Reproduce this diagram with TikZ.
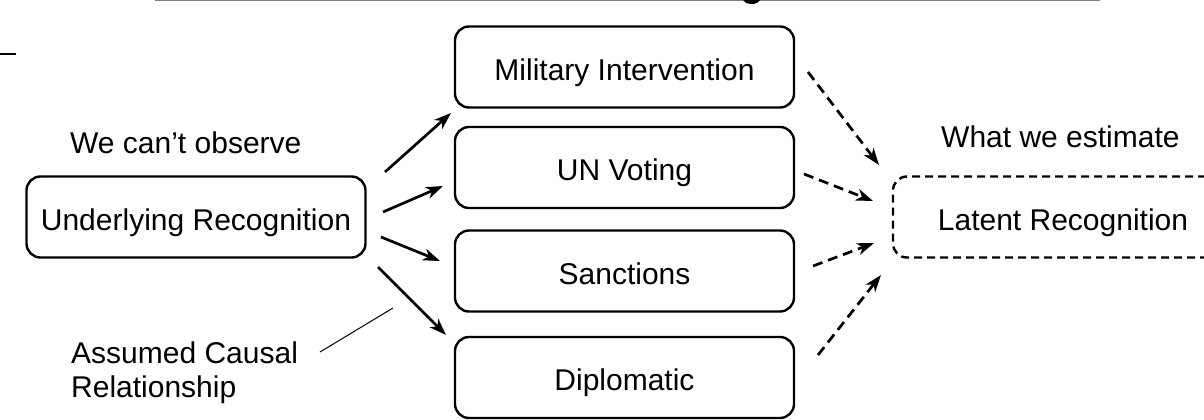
\documentclass[tikz,border=0pt]{standalone}
\usepackage{fontspec}
\setmainfont{Liberation Sans}
\usetikzlibrary{arrows.meta}
\tikzset{
  box/.style={draw, line width=2.4pt, rounded corners=14pt, minimum width=339pt, minimum height=81pt, inner sep=0pt, text height=26pt, text depth=0pt, font=\fontsize{30}{36}\selectfont},
  dbox/.style={box, dash pattern=on 8pt off 5pt},
  lbl/.style={anchor=base west, inner sep=0pt, font=\fontsize{30}{34}\selectfont, align=left},
  solidarr/.style={line width=2.7pt, -{Stealth[length=17pt,width=12pt,inset=5pt]}},
  dasharr/.style={solidarr, dash pattern=on 10pt off 6pt},
}
\begin{document}
\begin{tikzpicture}[x=1pt,y=-1pt]
\useasboundingbox (0,0) rectangle (1204,420);
\clip (0,0) rectangle (1204,420);
% fragments at the top
\draw[line width=2pt, black!50] (155,0.5) -- (1100,0.5);
\fill (743,0) -- (760,0) .. controls (758,4) and (752,5) .. (746,3) -- cycle;
\draw[line width=2.2pt] (0,54) -- (16,54);
% nodes
\node[box] (ur) at (196,217) {Underlying Recognition};
\node[box] (mil) at (624.5,67) {Military Intervention};
\node[box] (un) at (624.5,167.5) {UN Voting};
\node[box] (sanc) at (624.5,271) {Sanctions};
\node[box] (dip) at (624.5,377.5) {Diplomatic};
\node[dbox, minimum width=340pt] (lat) at (1063,217) {Latent Recognition};
\node[lbl] (obs) at (70,153) {We can’t observe};
\node[lbl] (est) at (941,147) {What we estimate};
\node[lbl] (acr) at (71,397) {Assumed Causal\\Relationship};
% arrow end points
\coordinate (s1a) at (385,172); \coordinate (s1b) at (451,113);
\coordinate (s2a) at (383,212); \coordinate (s2b) at (443,186);
\coordinate (s3a) at (381,237); \coordinate (s3b) at (440,261);
\coordinate (s4a) at (378,267); \coordinate (s4b) at (446,335);
\coordinate (d1a) at (808,72);  \coordinate (d1b) at (879,165);
\coordinate (d2a) at (804,174); \coordinate (d2b) at (873,201);
\coordinate (d3a) at (813,266); \coordinate (d3b) at (874,243);
\coordinate (d4a) at (818,355); \coordinate (d4b) at (881,275);
\coordinate (cla) at (320,352); \coordinate (clb) at (393,308);
\draw[solidarr] (s1a) -- (s1b);
\draw[solidarr] (s2a) -- (s2b);
\draw[solidarr] (s3a) -- (s3b);
\draw[solidarr] (s4a) -- (s4b);
\draw[dasharr] (d1a) -- (d1b);
\draw[dasharr] (d2a) -- (d2b);
\draw[dasharr] (d3a) -- (d3b);
\draw[dasharr] (d4a) -- (d4b);
\draw[line width=1pt] (cla) -- (clb);
\end{tikzpicture}
\end{document}
